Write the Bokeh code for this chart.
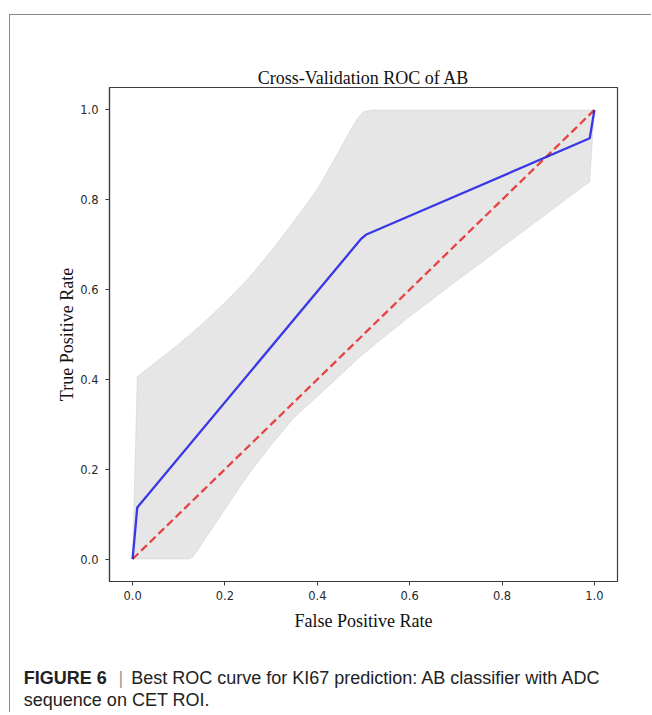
from bokeh.plotting import figure
from bokeh.models import Range1d, FixedTicker, PrintfTickFormatter, Label
from bokeh.embed import file_html
from bokeh.resources import INLINE

# ---- data ----
chance_fpr = [0.0, 1.0]
chance_tpr = [0.0, 1.0]

mean_fpr = [0.0, 0.0101, 0.4949, 0.5051, 0.9899, 1.0]
mean_tpr = [0.0, 0.115, 0.713, 0.722, 0.937, 1.0]

band_fpr = [0.0, 0.0101, 0.05, 0.10, 0.12, 0.13, 0.14, 0.15, 0.20, 0.25, 0.30,
            0.35, 0.40, 0.44, 0.47, 0.49, 0.50, 0.52, 0.55, 0.60, 0.65, 0.70,
            0.75, 0.80, 0.85, 0.90, 0.95, 0.9899, 1.0]
band_upper = [0.0, 0.406, 0.438, 0.479, 0.496, 0.505, 0.514, 0.523, 0.571, 0.624, 0.686,
              0.753, 0.824, 0.895, 0.952, 0.985, 0.996, 1.0, 1.0, 1.0, 1.0, 1.0,
              1.0, 1.0, 1.0, 1.0, 1.0, 1.0, 1.0]
band_lower = [0.0, 0.0, 0.0, 0.0, 0.0, 0.004, 0.018, 0.034, 0.111, 0.187, 0.254,
              0.315, 0.362, 0.40, 0.429, 0.448, 0.457, 0.474, 0.499, 0.54, 0.579, 0.618,
              0.656, 0.695, 0.733, 0.771, 0.81, 0.84, 1.0]

axis_ticks = [0.0, 0.2, 0.4, 0.6, 0.8, 1.0]

title_text = "Cross-Validation ROC of AB"
x_label = "False Positive Rate"
y_label = "True Positive Rate"
caption_bold = "FIGURE 6"
caption_bar = "|"
caption_rest1 = "Best ROC curve for KI67 prediction: AB classifier with ADC"
caption_rest2 = "sequence on CET ROI."

BORDER = "1px solid #8a8a8a"

# ---- chart ----
p = figure(frame_width=508, frame_height=494,
           min_border_left=99, min_border_right=34,
           min_border_top=72, min_border_bottom=69,
           x_range=Range1d(-0.05, 1.05), y_range=Range1d(-0.05, 1.05),
           output_backend="svg", toolbar_location=None,
           background_fill_color="white", border_fill_color="white")
p.margin = (14, 0, 0, 9)
p.styles = {"border-top": BORDER, "border-left": BORDER}

p.grid.visible = False
p.outline_line_color = "#3c3c3c"
p.outline_line_width = 1.2
p.outline_line_alpha = 1.0

p.title.text = title_text
p.title.text_font = "Liberation Serif"
p.title.text_font_size = "18px"
p.title.text_font_style = "normal"
p.title.text_color = "#111111"
p.title.align = "center"
p.title.standoff = 0

for ax in (p.xaxis[0], p.yaxis[0]):
    ax.ticker = FixedTicker(ticks=axis_ticks)
    ax.formatter = PrintfTickFormatter(format="%.1f")
    ax.minor_tick_line_color = None
    ax.major_tick_in = 0
    ax.major_tick_out = 4
    ax.major_tick_line_color = "#3c3c3c"
    ax.axis_line_color = "#3c3c3c"
    ax.axis_line_width = 1.2
    ax.major_label_text_font = "DejaVu Sans"
    ax.major_label_text_font_size = "11.5px"
    ax.major_label_text_color = "#2a2a2a"
    ax.axis_label_text_font = "Liberation Serif"
    ax.axis_label_text_font_size = "18px"
    ax.axis_label_text_font_style = "normal"
    ax.axis_label_text_color = "#111111"

p.xaxis[0].axis_label = x_label
p.yaxis[0].axis_label = y_label
p.xaxis[0].major_label_standoff = 5
p.yaxis[0].major_label_standoff = 7
p.xaxis[0].axis_label_standoff = 8
p.yaxis[0].axis_label_standoff = 0

# chance line, mean ROC, std band (same order as the original)
p.line(chance_fpr, chance_tpr, line_color="red", line_alpha=0.8, line_width=2.3,
       line_dash="8 4")
p.line(mean_fpr, mean_tpr, line_color="blue", line_alpha=0.85, line_width=2.3)
poly_x = band_fpr + band_fpr[::-1]
poly_y = band_upper + band_lower[::-1]
p.patch(poly_x, poly_y, fill_color="grey", fill_alpha=0.2,
        line_color="grey", line_alpha=0.15, line_width=1)

# ---- caption panel (separate root, its frame fills the whole canvas) ----
cap = figure(width=641, height=62, min_border=0, title_location=None,
             x_axis_type=None, y_axis_type=None,
             output_backend="svg", toolbar_location=None,
             background_fill_color="white", border_fill_color="white")
cap.margin = (0, 0, 0, 9)
cap.styles = {"border-left": BORDER}
cap.outline_line_color = None
cap.grid.visible = False

cap_font = "Liberation Sans"
for txt, xs, ys, style, col in [
        (caption_bold, 13.3, 35, "bold", "#222222"),
        (caption_bar, 108, 35, "normal", "#9a9a9a"),
        (caption_rest1, 120.7, 35, "normal", "#222222"),
        (caption_rest2, 13.3, 12.3, "normal", "#222222")]:
    cap.add_layout(Label(x=xs, y=ys, x_units="screen", y_units="screen",
                         text=txt, text_font=cap_font, text_font_size="18px",
                         text_font_style=style, text_color=col,
                         text_baseline="alphabetic"))

open("out.html", "w").write(file_html([p, cap], INLINE))
